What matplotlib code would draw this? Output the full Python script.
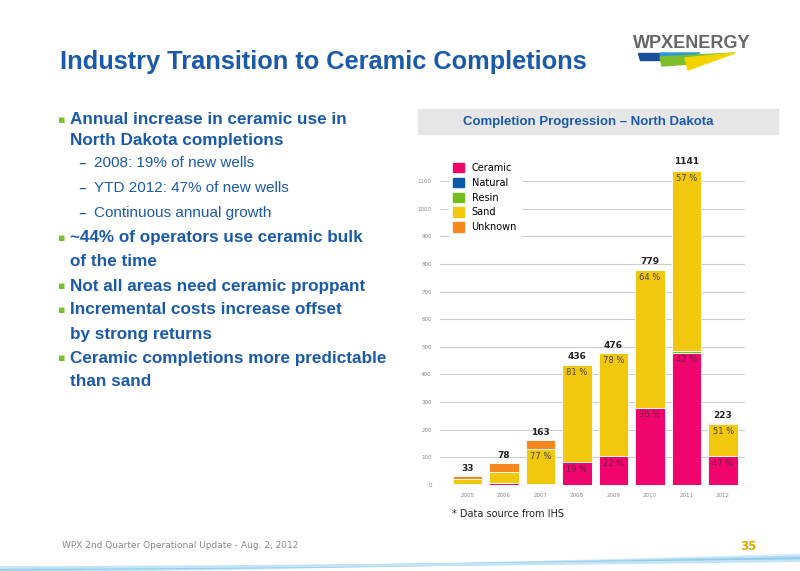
import matplotlib
matplotlib.use("Agg")
import matplotlib.pyplot as plt
from matplotlib.patches import Polygon, Rectangle
import numpy as np

years = ["2005", "2006", "2007", "2008", "2009", "2010", "2011", "2012"]
totals = [33, 78, 163, 436, 476, 779, 1141, 223]
ceramic = [3, 6, 5, 83, 105, 280, 479, 105]
natural = [0, 0, 0, 0, 0, 0, 0, 0]
resin = [1, 0, 0, 0, 0, 0, 7, 0]
sand = [17, 42, 126, 350, 371, 499, 650, 114]
unknown = [12, 30, 32, 3, 0, 0, 5, 4]
ceramic_pct = ["", "", "", "19 %", "22 %", "36 %", "42 %", "47 %"]
sand_pct = ["", "", "77 %", "81 %", "78 %", "64 %", "57 %", "51 %"]
yticks = list(range(0, 1101, 100))

BLUE = "#1a5aa8"
fig = plt.figure(figsize=(8, 5.71), dpi=100)

def px(x, y):
    return x / 800, 1 - y / 571

# Title
fig.text(*px(60, 62), "Industry Transition to Ceramic Completions", color=BLUE,
         fontsize=18.3, fontweight="bold", va="center", family="Liberation Sans")

# Logo
fig.text(*px(633, 44), "WPXENERGY", color="#666666", fontsize=13, fontweight="bold", va="center", family="Liberation Sans")
fig.patches.append(Polygon([px(638, 53), px(665, 53), px(665, 60), px(640, 60)], closed=True, transform=fig.transFigure, color="#1a4f9c"))
fig.patches.append(Polygon([px(660, 53), px(700, 53), px(680, 62), px(662, 63)], closed=True, transform=fig.transFigure, color="#2b9ad6"))
fig.patches.append(Polygon([px(660, 57), px(735, 53), px(690, 64), px(662, 66)], closed=True, transform=fig.transFigure, color="#7cbf2a"))
fig.patches.append(Polygon([px(685, 58), px(735, 53), px(688, 70)], closed=True, transform=fig.transFigure, color="#f4d400"))

# Bullets
bullets = [
    (62, 120, "\u25aa", "Annual increase in ceramic use in", True),
    (70, 140, "", "North Dakota completions", True),
    (80, 163, "\u2013", "2008: 19% of new wells", False),
    (80, 188, "\u2013", "YTD 2012: 47% of new wells", False),
    (80, 213, "\u2013", "Continuous annual growth", False),
    (62, 238, "\u25aa", "~44% of operators use ceramic bulk", True),
    (70, 262, "", "of the time", True),
    (62, 286, "\u25aa", "Not all areas need ceramic proppant", True),
    (62, 310, "\u25aa", "Incremental costs increase offset", True),
    (70, 334, "", "by strong returns", True),
    (62, 358, "\u25aa", "Ceramic completions more predictable", True),
    (70, 382, "", "than sand", True),
]
for x, y, mark, text, bold in bullets:
    if mark:
        fig.text(*px(x - 4 if bold else x - 2, y), mark, color="#7cbf2a" if bold else BLUE,
                 fontsize=8 if bold else 11, va="center", family="DejaVu Sans")
    tx = x + 8 if bold else x + 14
    if not mark:
        tx = x
    fig.text(*px(tx, y), text, color=BLUE, fontsize=12.3 if bold else 11,
             fontweight="bold" if bold else "normal", va="center", family="Liberation Sans")

# Chart header box
fig.patches.append(Rectangle(px(418, 134), 360 / 800, 25 / 571, transform=fig.transFigure, color="#e6e6e6"))
fig.text(*px(588, 122), "Completion Progression \u2013 North Dakota", color=BLUE, fontsize=9.5,
         fontweight="bold", ha="center", va="center", family="Liberation Sans")

# Chart
ax = fig.add_axes([440 / 800, 1 - 485 / 571, 305 / 800, 326 / 571])
x = np.arange(len(years))
w = 0.8
colors = {"Ceramic": "#f0056e", "Natural": "#0b5aa8", "Resin": "#74be1e",
          "Sand": "#f2c80f", "Unknown": "#f5881f"}
bottom = np.zeros(len(years))
for name, vals in [("Ceramic", ceramic), ("Natural", natural), ("Resin", resin),
                   ("Sand", sand), ("Unknown", unknown)]:
    v = np.array(vals, dtype=float)
    ax.bar(x, v, w, bottom=bottom, color=colors[name], edgecolor="white", linewidth=0.6, zorder=3)
    bottom += v
for i in range(len(years)):
    ax.text(x[i], totals[i] + 12, str(totals[i]), ha="center", va="bottom", fontsize=6.5,
            fontweight="bold", color="#222222")
    if ceramic_pct[i]:
        ax.text(x[i], ceramic[i] - 10, ceramic_pct[i], ha="center", va="top", fontsize=6, color="#6a2040")
    if sand_pct[i]:
        ax.text(x[i], ceramic[i] + resin[i] + sand[i] - 10, sand_pct[i], ha="center", va="top",
                fontsize=6, color="#444444")
ax.set_xlim(-0.75, 7.6)
ax.set_ylim(0, 1180)
ax.set_yticks(yticks)
ax.set_yticklabels([str(t) for t in yticks], fontsize=4, color="#888888")
ax.set_xticks(x)
ax.set_xticklabels(years, fontsize=4, color="#888888")
ax.tick_params(length=0, pad=6)
ax.yaxis.grid(True, color="#cccccc", linewidth=0.8, zorder=0)
for s in ax.spines.values():
    s.set_visible(False)
handles = [Rectangle((0, 0), 1, 1, color=colors[n]) for n in colors]
leg = ax.legend(handles, list(colors), loc="upper left", bbox_to_anchor=(0.03, 1.0), frameon=True,
                framealpha=1, edgecolor="white", fontsize=7, handlelength=1.1, handleheight=1.1,
                labelspacing=0.5, borderaxespad=0)
leg.set_zorder(5)

fig.text(*px(452, 514), "* Data source from IHS", fontsize=7, color="#222222", va="center")

# Footer
fig.text(*px(62, 546), "WPX 2nd Quarter Operational Update - Aug. 2, 2012", fontsize=6.5,
         color="#888888", va="center")
fig.text(*px(740, 546), "35", fontsize=8.5, color="#e0a800", fontweight="bold", ha="left", va="center")
xs = np.linspace(0, 800, 200)
for k, c in enumerate(["#d8eef8", "#b5dcf1", "#8ccbec", "#c4e4f4"]):
    y1 = 571 - (xs / 800) ** 1.5 * (16 - k * 3)
    fig.lines.append(plt.Line2D(xs / 800, 1 - y1 / 571 + 0.002 * k, transform=fig.transFigure,
                                color=c, linewidth=2))

fig.savefig("out.png", dpi=100)
